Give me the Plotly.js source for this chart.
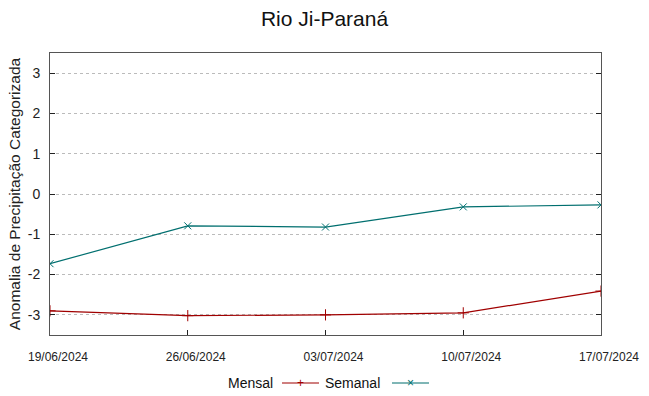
<!DOCTYPE html>
<html>
<head>
<meta charset="utf-8">
<script src="https://cdn.plot.ly/plotly-3.0.1.min.js"></script>
<style>html,body{margin:0;padding:0;background:#fff}#chart{width:649px;height:396px}</style>
</head>
<body>
<div id="chart"></div>
<script>
const dates = ['2024-06-19', '2024-06-26', '2024-07-03', '2024-07-10', '2024-07-17'];
const tickLabels = ['19/06/2024', '26/06/2024', '03/07/2024', '10/07/2024', '17/07/2024'];
const mensal = [-2.90, -3.02, -3.00, -2.95, -2.41];
const semanal = [-1.73, -0.79, -0.82, -0.32, -0.27];
const yTicks = [-3, -2, -1, 0, 1, 2, 3];

const redC = '#a00000';
const tealC = '#006f6f';
const font = 'Liberation Sans, Arial, sans-serif';

const traces = [
  {x: dates, y: mensal, type: 'scatter', mode: 'lines+markers', name: 'Mensal',
   line: {color: redC, width: 1.2}, marker: {symbol: 'cross-thin-open', size: 8, color: redC, line: {color: redC, width: 1}}},
  {x: dates, y: semanal, type: 'scatter', mode: 'lines+markers', name: 'Semanal',
   line: {color: tealC, width: 1.2}, marker: {symbol: 'x-thin-open', size: 7, color: tealC, line: {color: tealC, width: 1}}}
];

const W = 551, H = 282, L = 50, T = 53;
const px = v => (v - L) / W;
const py = v => (T + H - v) / H;

const layout = {
  width: 649, height: 396,
  margin: {l: 50, r: 48, t: 53, b: 61},
  paper_bgcolor: '#fff', plot_bgcolor: '#fff',
  showlegend: false,
  font: {family: font, color: '#222'},
  title: {text: 'Rio Ji-Paraná', font: {size: 21, family: font, color: '#111'}, x: 0.5, xanchor: 'center', y: 1 - 19/396, yanchor: 'middle'},
  xaxis: {
    type: 'date', range: [dates[0], dates[dates.length - 1]],
    tickmode: 'array', tickvals: dates, ticktext: tickLabels,
    ticks: 'inside', ticklen: 5, tickcolor: '#222', tickwidth: 1,
    showline: true, linecolor: '#555', linewidth: 1, mirror: true,
    showgrid: false, zeroline: false,
    tickfont: {size: 12, family: font, color: '#222'},
    ticklabelshift: 8, ticklabelstandoff: 11
  },
  yaxis: {
    range: [-3.5, 3.5], tickmode: 'array', tickvals: yTicks, ticktext: yTicks.map(String),
    ticks: 'inside', ticklen: 5, tickcolor: '#222', tickwidth: 1,
    showline: true, linecolor: '#555', linewidth: 1, mirror: 'ticks',
    showgrid: true, gridcolor: '#bbb', griddash: 'dot', gridwidth: 1,
    zeroline: false,
    tickfont: {size: 14, family: font, color: '#222'},
    ticklabelstandoff: 6,
    title: {text: 'Anomalia de Precipitação Categorizada', font: {size: 15.5, family: font, color: '#222'}, standoff: 3}
  },
  annotations: [
    {xref: 'paper', yref: 'paper', x: px(275), y: py(383), xanchor: 'right', yanchor: 'middle', text: 'Mensal', showarrow: false, font: {size: 14, family: font, color: '#111'}},
    {xref: 'paper', yref: 'paper', x: px(382), y: py(383), xanchor: 'right', yanchor: 'middle', text: 'Semanal', showarrow: false, font: {size: 14, family: font, color: '#111'}},
    {xref: 'paper', yref: 'paper', x: px(300.5), y: py(383), xanchor: 'center', yanchor: 'middle', text: '+', showarrow: false, font: {size: 12, family: font, color: redC}},
    {xref: 'paper', yref: 'paper', x: px(410.5), y: py(383), xanchor: 'center', yanchor: 'middle', text: '×', showarrow: false, font: {size: 12, family: font, color: tealC}}
  ],
  shapes: [
    {type: 'line', xref: 'paper', yref: 'paper', x0: px(282), x1: px(319), y0: py(383), y1: py(383), line: {color: redC, width: 1.2}},
    {type: 'line', xref: 'paper', yref: 'paper', x0: px(392), x1: px(429), y0: py(383), y1: py(383), line: {color: tealC, width: 1.2}}
  ]
};

Plotly.newPlot('chart', traces, layout, {displayModeBar: false, staticPlot: true});
</script>
</body>
</html>
